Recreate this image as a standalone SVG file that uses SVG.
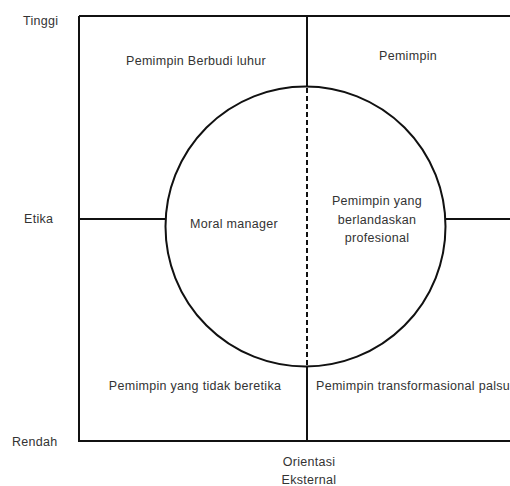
<svg xmlns="http://www.w3.org/2000/svg" width="510" height="486" viewBox="0 0 510 486">
<style>
.t{font-family:"Liberation Sans",Arial,sans-serif;font-size:12.5px;letter-spacing:0.3px;fill:#333}
.m{text-anchor:middle}
.ln{stroke:#111;stroke-width:2;fill:none}
</style>
<rect width="510" height="486" fill="#fff"/>
<g id="connectors">
<path class="ln" d="M79,16 H510 M79,16 V441 H510 M79,219 H165 M446,219 H510 M307,16 V87 M307,366 V441"/>
<line class="ln" x1="307" y1="88" x2="307" y2="365" stroke-dasharray="5,3"/>
</g>
<g id="circle"><circle class="ln" cx="305.5" cy="226.5" r="140"/></g>
<g id="axis-labels">
<text class="t" x="23" y="25">Tinggi</text>
<text class="t" x="24" y="223">Etika</text>
<text class="t" x="12" y="446">Rendah</text>
<text class="t m" x="309" y="466">Orientasi</text>
<text class="t m" x="309" y="484">Eksternal</text>
</g>
<g id="q1"><text class="t m" x="196" y="65">Pemimpin Berbudi luhur</text></g>
<g id="q2"><text class="t m" x="408" y="60">Pemimpin</text></g>
<g id="moral"><text class="t m" x="234" y="228">Moral manager</text></g>
<g id="prof">
<text class="t m" x="377" y="205">Pemimpin yang</text>
<text class="t m" x="377" y="224">berlandaskan</text>
<text class="t m" x="377" y="242">profesional</text>
</g>
<g id="q3"><text class="t m" x="195" y="390">Pemimpin yang tidak beretika</text></g>
<g id="q4"><text class="t" x="316" y="390">Pemimpin transformasional palsu</text></g>
</svg>
